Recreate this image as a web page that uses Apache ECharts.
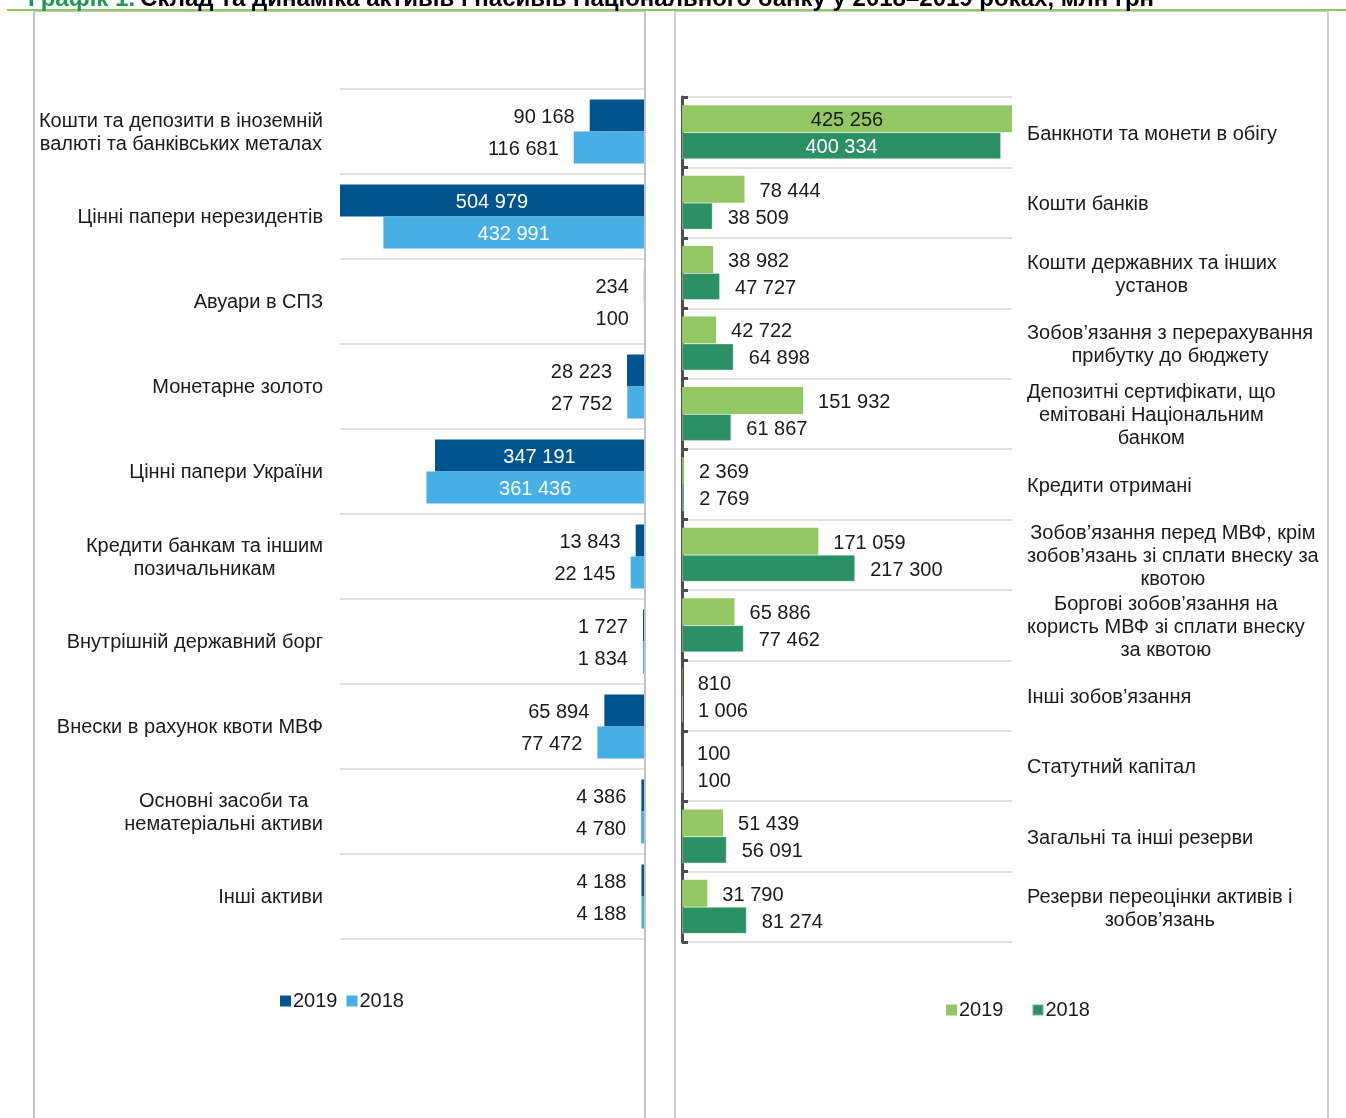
<!DOCTYPE html>
<html>
<head>
<meta charset="utf-8">
<script src="https://cdn.jsdelivr.net/npm/echarts@6/dist/echarts.min.js"></script>
<style>
html,body{margin:0;padding:0;background:#fff;}
#c{width:1346px;height:1118px;}
</style>
</head>
<body>
<div id="c"></div>
<script>
// ---------- DATA ----------
var assetCategories = [
  'Кошти та депозити в іноземній\nвалюті та банківських металах',
  'Цінні папери нерезидентів',
  'Авуари в СПЗ',
  'Монетарне золото',
  'Цінні папери України',
  'Кредити банкам та іншим\nпозичальникам',
  'Внутрішній державний борг',
  'Внески в рахунок квоти МВФ',
  'Основні засоби та\nнематеріальні активи',
  'Інші активи'
];
var assets2019 = [90168, 504979, 234, 28223, 347191, 13843, 1727, 65894, 4386, 4188];
var assets2018 = [116681, 432991, 100, 27752, 361436, 22145, 1834, 77472, 4780, 4188];

var liabCategories = [
  'Банкноти та монети в обігу',
  'Кошти банків',
  'Кошти державних та інших\nустанов',
  'Зобов’язання з перерахування\nприбутку до бюджету',
  'Депозитні сертифікати, що\nемітовані Національним\nбанком',
  'Кредити отримані',
  'Зобов’язання перед МВФ, крім\nзобов’язань зі сплати внеску за\nквотою',
  'Боргові зобов’язання на\nкористь МВФ зі сплати внеску\nза квотою',
  'Інші зобов’язання',
  'Статутний капітал',
  'Загальні та інші резерви',
  'Резерви переоцінки активів і\nзобов’язань'
];
var liab2019 = [425256, 78444, 38982, 42722, 151932, 2369, 171059, 65886, 810, 100, 51439, 31790];
var liab2018 = [400334, 38509, 47727, 64898, 61867, 2769, 217300, 77462, 1006, 100, 56091, 81274];

var legendYears = ['2019', '2018'];
var titleLead = 'Графік 1.';
var titleRest = 'Склад та динаміка активів і пасивів Національного банку у 2018–2019 роках, млн грн';

// ---------- STYLE ----------
var FONT = '"Liberation Sans", Arial, sans-serif';
var TXT = '#1a1a1a';
var C_DB = '#00558f', C_LB = '#46afe3', C_LG = '#92c763', C_DG = '#2b9165';
var GRIDLINE = '#d9d9d9';

function fmt(v){ return String(v).replace(/\B(?=(\d{3})+(?!\d))/g, ' '); }
function catFmt(s){ return s.split('\n').map(function(l){ return '{c|' + l + '}'; }).join('\n'); }
var catRich = { c: { align: 'center', fontSize: 20, lineHeight: 23, color: TXT, fontFamily: FONT } };

function buildData(vals, insideColor, threshold){
  return vals.map(function(v){
    if (v >= threshold) {
      return { value: v, label: { position: 'inside', color: insideColor } };
    }
    return { value: v };
  });
}

var chart = echarts.init(document.getElementById('c'), null, { renderer: 'canvas' });

var baseLabel = {
  show: true, position: 'outside', distance: 15, fontSize: 20, color: TXT, fontFamily: FONT,
  offset: [0, 2],
  formatter: function(p){ return fmt(p.value); }
};

var option = {
  backgroundColor: '#fff',
  animation: false,
  textStyle: { fontFamily: FONT },
  title: {
    text: '{g|' + titleLead + '} {b|' + titleRest + '}',
    left: 23, top: -19,
    textStyle: {
      rich: {
        g: { color: '#1e9a50', fontWeight: 'bold', fontSize: 24, fontFamily: FONT, lineHeight: 26 },
        b: { color: '#000', fontWeight: 'bold', fontSize: 24, fontFamily: FONT, lineHeight: 26 }
      }
    }
  },
  graphic: [
    { type: 'rect', shape: { x: 34, y: 11, width: 611, height: 1130 }, style: { fill: 'none', stroke: '#c4c4c4', lineWidth: 2 }, z: -1 },
    { type: 'rect', shape: { x: 675, y: 11, width: 653, height: 1130 }, style: { fill: 'none', stroke: '#cfcfcf', lineWidth: 2 }, z: -1 },
    { type: 'line', shape: { x1: 7, y1: 10, x2: 1346, y2: 10 }, style: { stroke: '#92c763', lineWidth: 2 }, z: 0 }
  ],
  legend: [
    {
      data: ['2019', '2018'], left: 275, top: 986, itemWidth: 11, itemHeight: 11, itemGap: 9,
      icon: 'rect', textStyle: { fontSize: 20, color: TXT, fontFamily: FONT, padding: [0, 0, 0, -3] },
      formatter: function(n){ return n.trim(); }
    },
    {
      data: ['2019 ', '2018 '], left: 941, top: 995, itemWidth: 11, itemHeight: 11, itemGap: 28,
      icon: 'rect', textStyle: { fontSize: 20, color: TXT, fontFamily: FONT, padding: [0, 0, 0, -3] },
      formatter: function(n){ return n.trim(); }
    }
  ],
  grid: [
    { left: 340, right: 702, top: 89, bottom: 179, containLabel: false },
    { left: 682, right: 334, top: 97, bottom: 176, containLabel: false }
  ],
  xAxis: [
    { gridIndex: 0, type: 'value', inverse: true, min: 0, max: 505000, show: false },
    { gridIndex: 1, type: 'value', min: 0, max: 414000, show: false }
  ],
  yAxis: [
    {
      gridIndex: 0, type: 'category', inverse: true, data: assetCategories, position: 'left',
      axisLine: { show: false }, axisTick: { show: false },
      splitLine: { show: true, lineStyle: { color: GRIDLINE, width: 1.5 } },
      axisLabel: { margin: 17, formatter: catFmt, rich: catRich, padding: [2, 0, 0, 0] }
    },
    {
      gridIndex: 1, type: 'category', inverse: true, data: liabCategories, position: 'left',
      axisLine: { show: true, lineStyle: { color: '#4d4d4d', width: 3 } },
      axisTick: { show: true, inside: true, length: 6, lineStyle: { color: '#4d4d4d', width: 3 } },
      splitLine: { show: true, lineStyle: { color: GRIDLINE, width: 1.5 } },
      axisLabel: { show: false }
    },
    {
      gridIndex: 1, type: 'category', inverse: true, data: liabCategories, position: 'right',
      axisLine: { show: false }, axisTick: { show: false }, splitLine: { show: false },
      axisLabel: { margin: 15, formatter: catFmt, rich: catRich, padding: [4, 0, 0, 0] }
    }
  ],
  series: [
    {
      name: '2019', type: 'bar', xAxisIndex: 0, yAxisIndex: 0, barWidth: 32, barGap: '0%',
      itemStyle: { color: C_DB }, label: baseLabel,
      data: buildData(assets2019, '#fff', 300000)
    },
    {
      name: '2018', type: 'bar', xAxisIndex: 0, yAxisIndex: 0, barWidth: 32, barGap: '0%',
      itemStyle: { color: C_LB }, label: baseLabel,
      data: buildData(assets2018, '#fff', 300000)
    },
    {
      name: '2019 ', type: 'bar', xAxisIndex: 1, yAxisIndex: 1, barWidth: 27, barGap: '0%',
      itemStyle: { color: C_LG }, label: baseLabel,
      data: buildData(liab2019, TXT, 300000)
    },
    {
      name: '2018 ', type: 'bar', xAxisIndex: 1, yAxisIndex: 1, barWidth: 27, barGap: '0%',
      itemStyle: { color: C_DG, borderColor: 'rgba(255,255,255,0.35)', borderWidth: 1 }, label: baseLabel,
      data: buildData(liab2018, '#fff', 300000)
    }
  ]
};
chart.setOption(option);
</script>
</body>
</html>
